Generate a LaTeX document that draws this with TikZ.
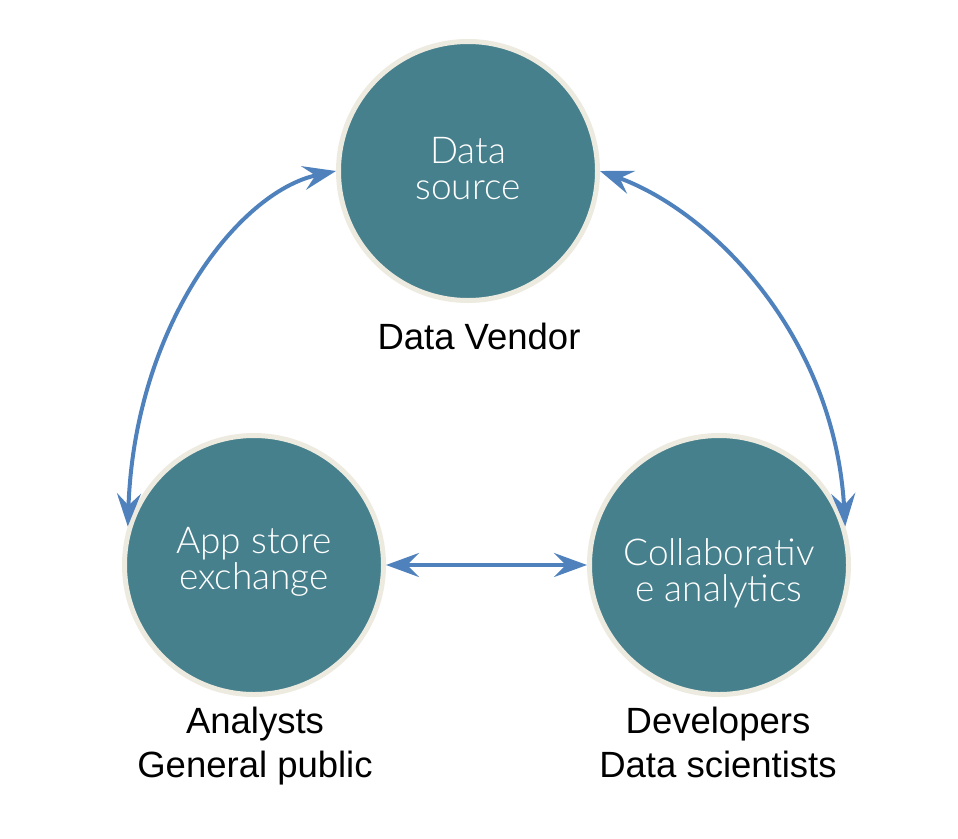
\documentclass[tikz,border=0pt]{standalone}
\usepackage{fontspec}
\setmainfont{Liberation Sans}
\newfontfamily\circfont{Lato Light}
\usetikzlibrary{arrows.meta}
\definecolor{circfill}{HTML}{46808C}
\definecolor{circring}{HTML}{EDEAE0}
\definecolor{arrowblue}{HTML}{4F81BD}
\tikzset{
  hub/.style={circle, fill=circfill, draw=circring, line width=5pt, minimum size=259pt, inner sep=0pt},
  hubtext/.style={text=white, font=\circfont\fontsize{37}{36}\selectfont, align=center, anchor=base},
  role/.style={text=black, font=\fontsize{36.5}{44}\selectfont, align=center, anchor=base},
  link/.style={draw=arrowblue, line width=4pt, {Stealth[length=33pt,width=24pt,inset=12pt]}-{Stealth[length=33pt,width=24pt,inset=12pt]}}
}
\begin{document}
\begin{tikzpicture}[x=1pt,y=-1pt]
\useasboundingbox (0,0) rectangle (958,838);
\node[hub] (ds) at (468,171) {};
\node[hub] (app) at (254,565) {};
\node[hub] (col) at (719,565) {};
\node[hubtext] (dst) at (468,199) {Data\\source};
\node[hubtext] (appt) at (254,589) {App store\\exchange};
\node[hubtext] (colt) at (719,601) {Collaborativ\\e analytics};
\node[role] (dsl) at (479,349) {Data Vendor};
\node[role] (appl) at (255,777) {Analysts\\General public};
\node[role] (coll) at (718,777) {Developers\\Data scientists};
\draw[link] (ds.west) .. controls +(-98,21) and +(7,-200) .. (app.163.6);
\draw[link] (ds.east) .. controls +(113,41) and +(-11,-190) .. (col.17);
\draw[link] (app.east) -- (col.west);
\end{tikzpicture}
\end{document}
